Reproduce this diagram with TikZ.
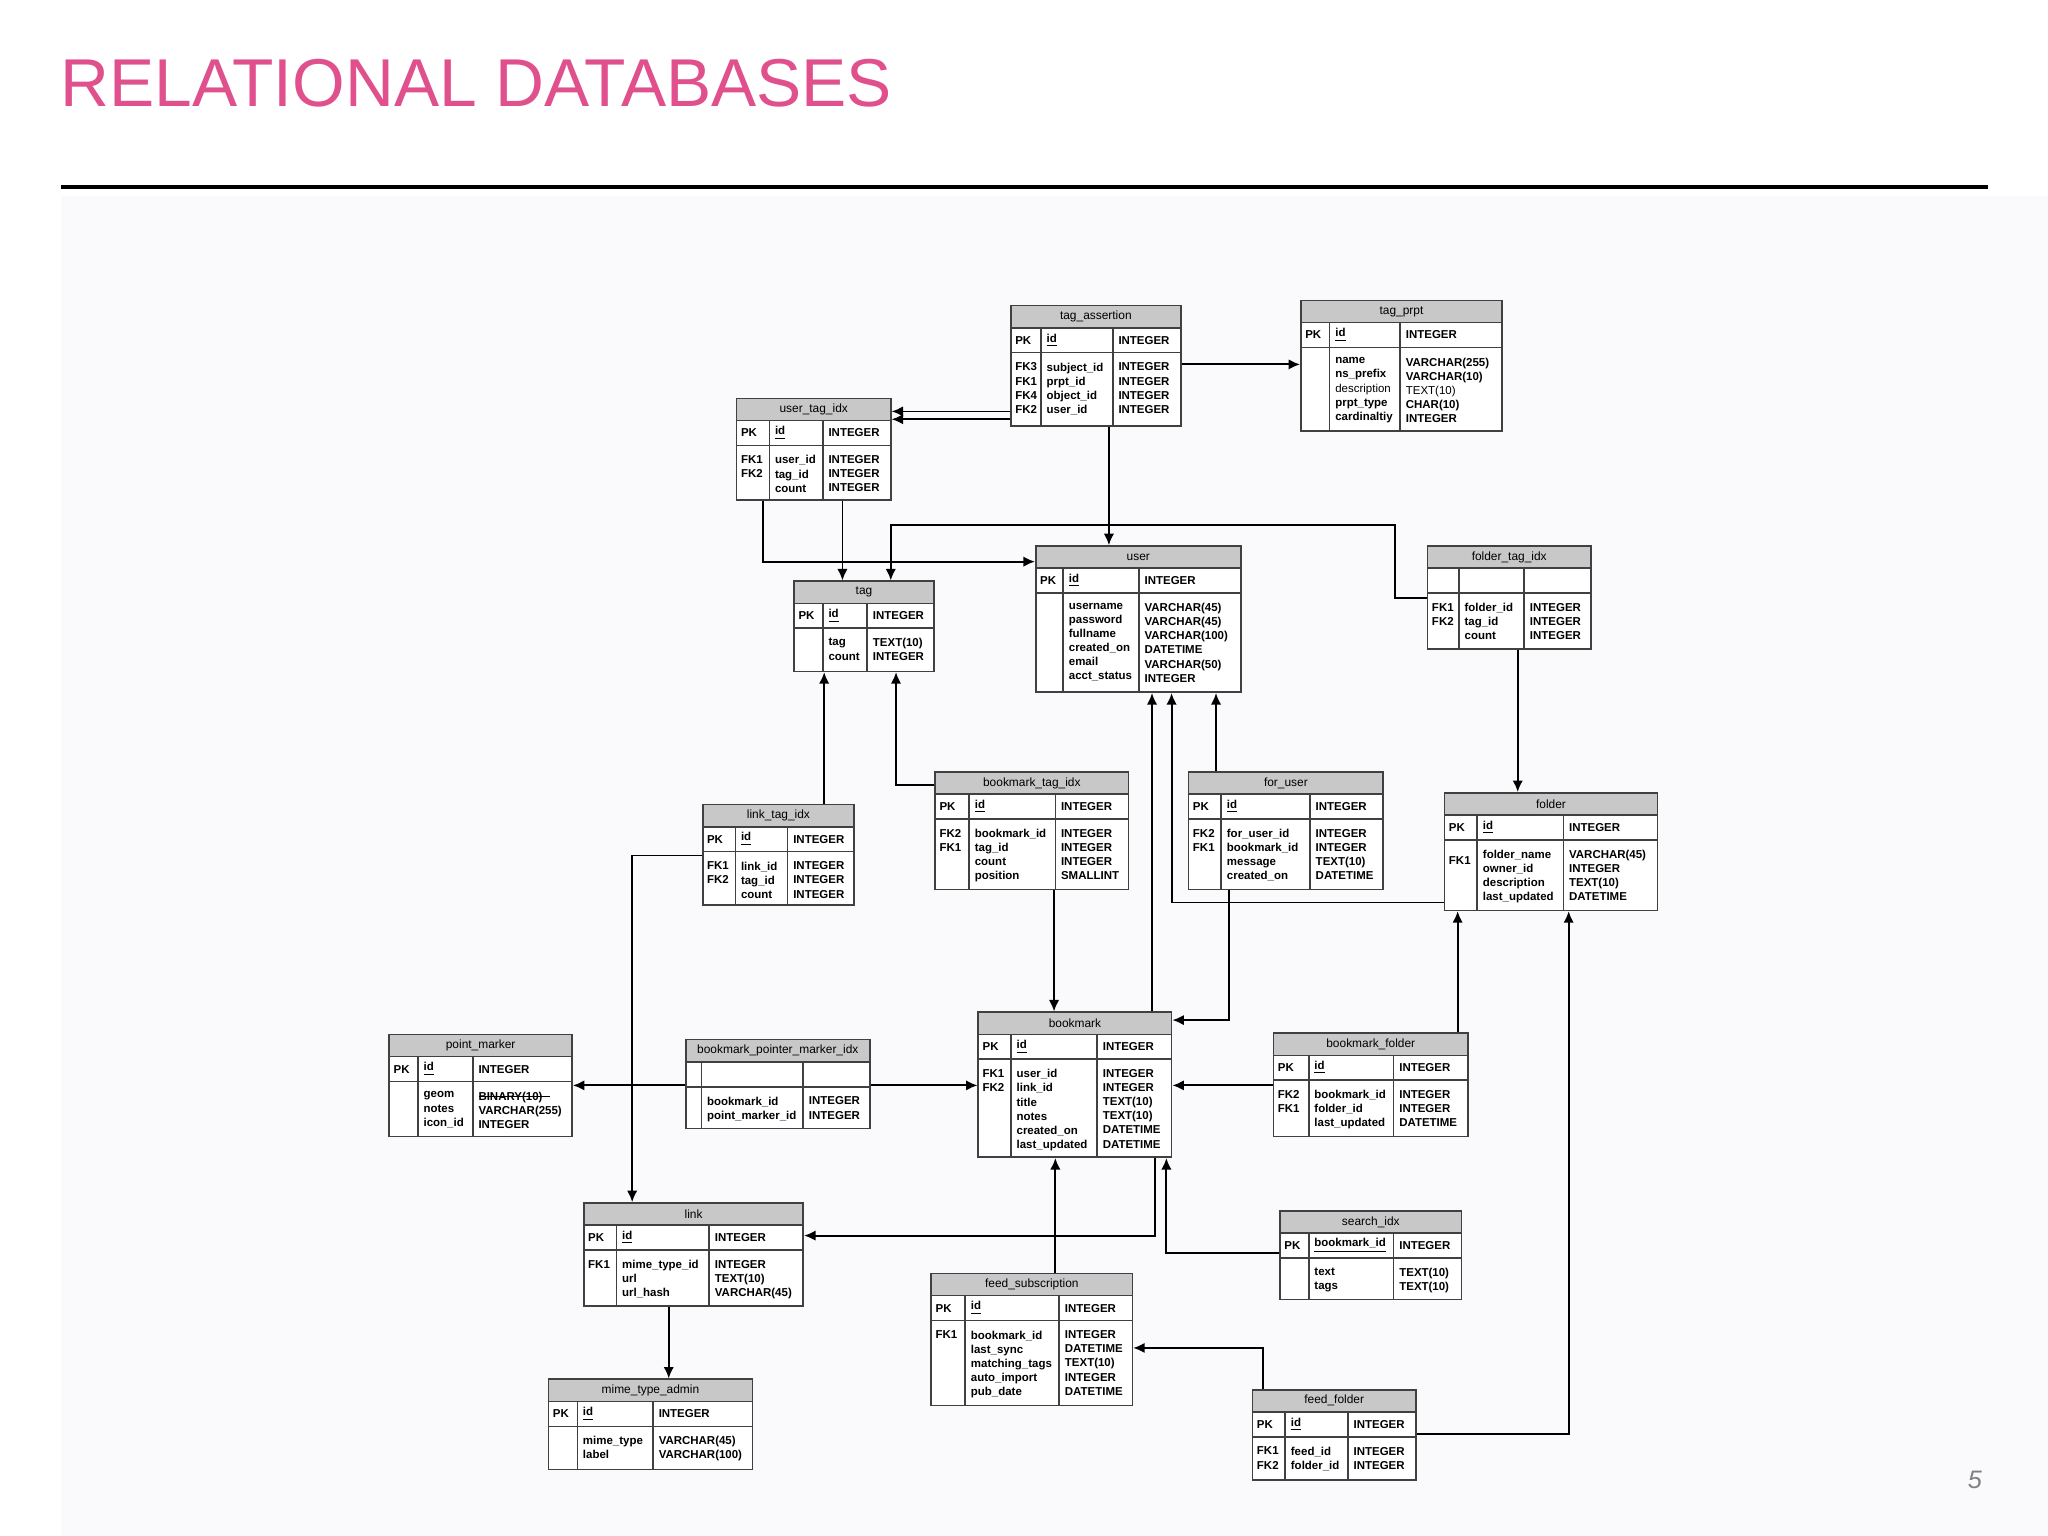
\documentclass[tikz,border=0pt]{standalone}
\usepackage{fontspec}
\setmainfont{Liberation Sans}
\usetikzlibrary{arrows.meta,fit}
\definecolor{pinkt}{HTML}{E0508C}
\definecolor{hdr}{HTML}{C8C8C8}
\definecolor{bgc}{HTML}{FAF9FB}
\tikzset{
 conn/.style={line width=0.8pt,-{Latex[length=5pt,width=4.5pt]}},
 tline/.style={line width=0.7pt,draw=black!75},
 ttext/.style={inner sep=0pt,font=\fontsize{5.0}{6.15}\selectfont\bfseries,align=left,anchor=north west},
 htext/.style={inner sep=0pt,font=\fontsize{5.2}{6.15}\selectfont},
}
% #1 id #2 l #3 t #4 r #5 b #6 c1 #7 c2 #8 title
\newcommand\dbtable[8]{%
 \fill[hdr] (#2,#3) rectangle (#4,#3+17);
 \fill[white] (#2,#3+17) rectangle (#4,#5);
 \draw[tline] (#2,#3+17)--(#4,#3+17) (#2,#3+36)--(#4,#3+36) (#6,#3+17)--(#6,#5) (#7,#3+17)--(#7,#5);
 \node[fit={(#2,#3)(#4,#5)},inner sep=0pt,draw=black!75,line width=0.7pt] (#1) {};
 \node[htext] at ({(#2+#4)/2},#3+8.5) {#8};
}
% #1 l #2 t #3 c1 #4 c2 #5 key #6 name #7 type
\newcommand\pkrow[7]{%
 \node[ttext,anchor=west] at (#1+3,#2+26.5) {#5};
 \node[ttext,anchor=west] at (#3+4,#2+26.5) {#6};
 \node[ttext,anchor=west] at (#4+4,#2+26.5) {#7};
}
% #1 l #2 t #3 c1 #4 c2 #5 keys #6 names #7 types
\newcommand\dbbody[7]{%
 \node[ttext] at (#1+3,#2+43.5) {#5};
 \node[ttext] at (#3+4,#2+43.5) {#6};
 \node[ttext] at (#4+4,#2+43.5) {#7};
}
\begin{document}
\begin{tikzpicture}[x=0.02cm,y=-0.02cm]
\useasboundingbox (0,0) rectangle (1568,1176);
\fill[white] (0,0) rectangle (1568,1176);
\fill[bgc] (47,150) rectangle (1568,1176);
\node[anchor=west,inner sep=0pt,text=pinkt,font=\fontsize{29.5}{30}\selectfont] (title) at (46,64) {RELATIONAL DATABASES};
\draw[line width=1.6pt] (47,143) -- (1522,143);
\node[text=black!50,font=\itshape\fontsize{11}{11}\selectfont] (pgnum) at (1512,1133) {5};

% tag_assertion
\dbtable{ta}{774}{234}{904}{326}{797}{852}{tag\_assertion}
\pkrow{774}{234}{797}{852}{PK}{\underline{id}}{INTEGER}
\dbbody{774}{234}{797}{852}{FK3\\FK1\\FK4\\FK2}{subject\_id\\prpt\_id\\object\_id\\user\_id}{INTEGER\\INTEGER\\INTEGER\\INTEGER}
% tag_prpt
\dbtable{tp}{996}{230}{1150}{330}{1018}{1072}{tag\_prpt}
\pkrow{996}{230}{1018}{1072}{PK}{\underline{id}}{INTEGER}
\dbbody{996}{230}{1018}{1072}{}{name\\ns\_prefix\\\mdseries description\\prpt\_type\\cardinaltiy}{VARCHAR(255)\\VARCHAR(10)\\\mdseries TEXT(10)\\CHAR(10)\\INTEGER}
% user_tag_idx
\dbtable{uti}{564}{305}{682}{383}{589}{630}{user\_tag\_idx}
\pkrow{564}{305}{589}{630}{PK}{\underline{id}}{INTEGER}
\dbbody{564}{305}{589}{630}{FK1\\FK2}{user\_id\\tag\_id\\count}{INTEGER\\INTEGER\\INTEGER}
% user
\dbtable{user}{793}{418}{950}{530}{814}{872}{user}
\pkrow{793}{418}{814}{872}{PK}{\underline{id}}{INTEGER}
\dbbody{793}{418}{814}{872}{}{username\\password\\fullname\\created\_on\\email\\acct\_status}{VARCHAR(45)\\VARCHAR(45)\\VARCHAR(100)\\DATETIME\\VARCHAR(50)\\INTEGER}
% folder_tag_idx
\dbtable{fti}{1093}{418}{1218}{497}{1117}{1167}{folder\_tag\_idx}
\dbbody{1093}{418}{1117}{1167}{FK1\\FK2}{folder\_id\\tag\_id\\count}{INTEGER\\INTEGER\\INTEGER}
% tag
\dbtable{tag}{608}{445}{715}{514}{630}{664}{tag}
\pkrow{608}{445}{630}{664}{PK}{\underline{id}}{INTEGER}
\dbbody{608}{445}{630}{664}{}{tag\\count}{TEXT(10)\\INTEGER}
% bookmark_tag_idx
\dbtable{bti}{716}{591}{864}{681}{742}{808}{bookmark\_tag\_idx}
\pkrow{716}{591}{742}{808}{PK}{\underline{id}}{INTEGER}
\dbbody{716}{591}{742}{808}{FK2\\FK1}{bookmark\_id\\tag\_id\\count\\position}{INTEGER\\INTEGER\\INTEGER\\SMALLINT}
% for_user
\dbtable{fu}{910}{591}{1059}{681}{935}{1003}{for\_user}
\pkrow{910}{591}{935}{1003}{PK}{\underline{id}}{INTEGER}
\dbbody{910}{591}{935}{1003}{FK2\\FK1}{for\_user\_id\\bookmark\_id\\message\\created\_on}{INTEGER\\INTEGER\\TEXT(10)\\DATETIME}
% link_tag_idx
\dbtable{lti}{538}{616}{654}{693}{563}{603}{link\_tag\_idx}
\pkrow{538}{616}{563}{603}{PK}{\underline{id}}{INTEGER}
\dbbody{538}{616}{563}{603}{FK1\\FK2}{link\_id\\tag\_id\\count}{INTEGER\\INTEGER\\INTEGER}
% folder
\dbtable{folder}{1106}{607}{1269}{697}{1131}{1197}{folder}
\pkrow{1106}{607}{1131}{1197}{PK}{\underline{id}}{INTEGER}
\dbbody{1106}{607}{1131}{1197}{\mbox{}\\FK1}{folder\_name\\owner\_id\\description\\last\_updated}{VARCHAR(45)\\INTEGER\\TEXT(10)\\DATETIME}
% bookmark
\dbtable{bm}{749}{775}{897}{886}{774}{840}{bookmark}
\pkrow{749}{775}{774}{840}{PK}{\underline{id}}{INTEGER}
\dbbody{749}{775}{774}{840}{FK1\\FK2}{user\_id\\link\_id\\title\\notes\\created\_on\\last\_updated}{INTEGER\\INTEGER\\TEXT(10)\\TEXT(10)\\DATETIME\\DATETIME}
% point_marker
\dbtable{pm}{298}{792}{438}{870}{320}{362}{point\_marker}
\pkrow{298}{792}{320}{362}{PK}{\underline{id}}{INTEGER}
\dbbody{298}{792}{320}{362}{}{geom\\notes\\icon\_id}{\rlap{\rule[0.3em]{6.2em}{0.45pt}}BINARY(10)\\VARCHAR(255)\\INTEGER}
% bookmark_pointer_marker_idx
\dbtable{bpmi}{525}{796}{666}{864}{537}{615}{bookmark\_pointer\_marker\_idx}
\dbbody{525}{796}{537}{615}{}{bookmark\_id\\point\_marker\_id}{INTEGER\\INTEGER}
% bookmark_folder
\dbtable{bf}{975}{791}{1124}{870}{1002}{1067}{bookmark\_folder}
\pkrow{975}{791}{1002}{1067}{PK}{\underline{id}}{INTEGER}
\dbbody{975}{791}{1002}{1067}{FK2\\FK1}{bookmark\_id\\folder\_id\\last\_updated}{INTEGER\\INTEGER\\DATETIME}
% link
\dbtable{link}{447}{921}{615}{1000}{472}{543}{link}
\pkrow{447}{921}{472}{543}{PK}{\underline{id}}{INTEGER}
\dbbody{447}{921}{472}{543}{FK1}{mime\_type\_id\\url\\url\_hash}{INTEGER\\TEXT(10)\\VARCHAR(45)}
% search_idx
\dbtable{si}{980}{927}{1119}{995}{1002}{1067}{search\_idx}
\pkrow{980}{927}{1002}{1067}{PK}{\underline{bookmark\_id}}{INTEGER}
\dbbody{980}{927}{1002}{1067}{}{text\\tags}{TEXT(10)\\TEXT(10)}
% feed_subscription
\dbtable{fs}{713}{975}{867}{1076}{739}{811}{feed\_subscription}
\pkrow{713}{975}{739}{811}{PK}{\underline{id}}{INTEGER}
\dbbody{713}{975}{739}{811}{FK1}{bookmark\_id\\last\_sync\\matching\_tags\\auto\_import\\pub\_date}{INTEGER\\DATETIME\\TEXT(10)\\INTEGER\\DATETIME}
% mime_type_admin
\dbtable{mta}{420}{1056}{576}{1125}{442}{500}{mime\_type\_admin}
\pkrow{420}{1056}{442}{500}{PK}{\underline{id}}{INTEGER}
\dbbody{420}{1056}{442}{500}{}{mime\_type\\label}{VARCHAR(45)\\VARCHAR(100)}
% feed_folder
\dbtable{ff}{959}{1064}{1084}{1133}{984}{1032}{feed\_folder}
\pkrow{959}{1064}{984}{1032}{PK}{\underline{id}}{INTEGER}
\dbbody{959}{1064}{984}{1032}{FK1\\FK2}{feed\_id\\folder\_id}{INTEGER\\INTEGER}

% connectors
\draw[conn] (ta.east|-0,279) -- (tp.west|-0,279);
\draw[conn] (ta.west|-0,315) -- (uti.east|-0,315);
\draw[conn] (ta.west|-0,321) -- (uti.east|-0,321);
\draw[conn] (ta.south-|849,0) -- (user.north-|849,0);
\draw[conn] (uti.south-|584,0) |- (user.west|-0,430);
\draw[conn] (uti.south-|645,0) -- (tag.north-|645,0);
\draw[conn] (fti.west|-0,458) -- (1068,458) -- (1068,402) -| (tag.north-|682,0);
\draw[conn] (fti.south-|1162,0) -- (folder.north-|1162,0);
\draw[conn] (lti.north-|631,0) -- (tag.south-|631,0);
\draw[conn] (bti.west|-0,601) -| (tag.south-|686,0);
\draw[conn] (bti.south-|807,0) -- (bm.north-|807,0);
\draw[conn] (bm.north-|882,0) -- (user.south-|882,0);
\draw[conn] (fu.north-|931,0) -- (user.south-|931,0);
\draw[conn] (folder.west|-0,691) -| (user.south-|897,0);
\draw[conn] (fu.south-|941,0) |- (bm.east|-0,781);
\draw[conn] (lti.west|-0,655) -| (link.north-|484,0);
\draw[conn] (bpmi.west|-0,831) -- (pm.east|-0,831);
\draw[conn] (bpmi.east|-0,831) -- (bm.west|-0,831);
\draw[conn] (bf.west|-0,831) -- (bm.east|-0,831);
\draw[conn] (bf.north-|1116,0) -- (folder.south-|1116,0);
\draw[conn] (bm.south-|884,0) |- (link.east|-0,946);
\draw[conn] (si.west|-0,959) -| (bm.south-|893,0);
\draw[conn] (fs.north-|808,0) -- (bm.south-|808,0);
\draw[conn] (link.south-|512,0) -- (mta.north-|512,0);
\draw[conn] (ff.north-|967,0) |- (fs.east|-0,1032);
\draw[conn] (ff.east|-0,1098) -| (folder.south-|1201,0);
\end{tikzpicture}
\end{document}
